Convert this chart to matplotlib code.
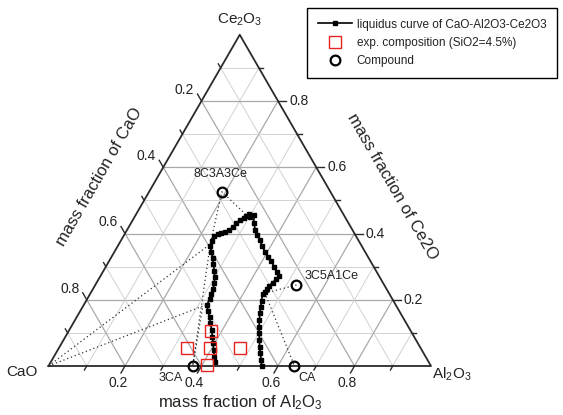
import numpy as np
import matplotlib.pyplot as plt

plt.rcParams['font.family'] = ['Liberation Sans', 'DejaVu Sans']
plt.rcParams['mathtext.default'] = 'regular'

# mass fractions: (Al2O3, Ce2O3), CaO is the rest
curve_al2o3 = [0.428, 0.419, 0.408, 0.396, 0.384, 0.372, 0.359, 0.347, 0.334, 0.322,
               0.320, 0.317, 0.314, 0.308, 0.300, 0.290, 0.277, 0.266, 0.254, 0.243,
               0.238, 0.237, 0.243, 0.251, 0.259, 0.267, 0.273, 0.276, 0.280, 0.286,
               0.291, 0.294, 0.302, 0.310, 0.320, 0.335, 0.349, 0.364, 0.377, 0.394,
               0.409, 0.425, 0.441, 0.456, 0.468, 0.464, 0.460, 0.456, 0.454, 0.454,
               0.451, 0.459, 0.466, 0.473, 0.482, 0.491, 0.501, 0.512, 0.523, 0.535,
               0.547, 0.557]
curve_ce2o3 = [0.012, 0.028, 0.048, 0.069, 0.089, 0.109, 0.129, 0.148, 0.166, 0.184,
               0.202, 0.217, 0.233, 0.251, 0.269, 0.287, 0.308, 0.326, 0.344, 0.361,
               0.377, 0.391, 0.399, 0.401, 0.405, 0.411, 0.420, 0.431, 0.441, 0.448,
               0.453, 0.459, 0.451, 0.457, 0.432, 0.412, 0.394, 0.379, 0.362, 0.345,
               0.330, 0.316, 0.299, 0.284, 0.271, 0.263, 0.252, 0.243, 0.233, 0.222,
               0.217, 0.196, 0.178, 0.159, 0.139, 0.119, 0.099, 0.079, 0.058, 0.038,
               0.018, 0.0]

exp_al2o3 = [0.372, 0.336, 0.395, 0.473, 0.414]
exp_ce2o3 = [0.106, 0.053, 0.053, 0.053, 0.003]

comp_names = ['8C3A3Ce', '3C5A1Ce', '3CA', 'CA']
comp_al2o3 = [0.190, 0.526, 0.377, 0.643]
comp_ce2o3 = [0.526, 0.2445, 0.0, 0.0]

# dotted boundary lines, as (Al2O3, Ce2O3) points
dotted_paths = [
    [(0.0, 0.0), (0.239, 0.368), (0.190, 0.526), (0.288, 0.457)],
    [(0.0, 0.0), (0.313, 0.181), (0.377, 0.0)],
    [(0.239, 0.368), (0.377, 0.0)],
    [(0.526, 0.2445), (0.456, 0.220), (0.643, 0.0)],
]

levels = [0.1, 0.2, 0.3, 0.4, 0.5, 0.6, 0.7, 0.8, 0.9]


def tern(a, c):
    a = np.asarray(a, dtype=float)
    c = np.asarray(c, dtype=float)
    return a + c / 2, c * np.sqrt(3) / 2


fig = plt.figure(figsize=(5.63, 4.15), dpi=100)
ax = fig.add_axes([0, 0, 1, 1])
ax.set_xlim(-0.1268, 1.3451)
ax.set_ylim(-0.1281, 0.9569)
ax.axis('off')

txt = '#222222'
h = np.sqrt(3) / 2

# grid
for k in levels:
    major = abs(k * 10 % 2) < 1e-6
    col = '#a9a9a9' if major else '#d2d2d2'
    lw = 0.9 if major else 0.7
    for (a0, c0), (a1, c1) in [((0, k), (1 - k, k)),
                               ((k, 0), (k, 1 - k)),
                               ((1 - k, 0), (0, 1 - k))]:
        x, y = tern([a0, a1], [c0, c1])
        ax.plot(x, y, color=col, lw=lw, zorder=1)

# dotted lines
for path in dotted_paths:
    x, y = tern([p[0] for p in path], [p[1] for p in path])
    ax.plot(x, y, color='#333333', lw=0.9, ls=(0, (1, 2.2)), zorder=2)

# triangle
x, y = tern([0, 1, 0, 0], [0, 0, 1, 0])
ax.plot(x, y, color='#2a2a2a', lw=1.3, zorder=3)

# ticks and tick labels
for k in levels:
    major = abs(k * 10 % 2) < 1e-6
    L = 0.021 if major else 0.012
    lab = '%.1f' % k
    # right edge, Ce2O3
    x, y = tern(1 - k, k)
    ax.plot([x, x + L], [y, y], color='#2a2a2a', lw=1.0, zorder=3)
    # bottom edge, Al2O3
    x2, y2 = tern(k, 0)
    ax.plot([x2, x2 - 0.5 * L], [y2, y2 - h * L], color='#2a2a2a', lw=1.0, zorder=3)
    # left edge, CaO
    x3, y3 = tern(0, 1 - k)
    ax.plot([x3, x3 - 0.5 * L], [y3, y3 + h * L], color='#2a2a2a', lw=1.0, zorder=3)
    if major:
        ax.text(x + 0.029, y, lab, ha='left', va='center', fontsize=10, color=txt)
        ax.text(x2 - 0.018, y2 - 0.044, lab, ha='center', va='center', fontsize=10, color=txt)
        ax.text(x3 - 0.044, y3 + 0.029, lab, ha='center', va='center', fontsize=10, color=txt)

# corner labels
ax.text(0.5007, 0.905, 'Ce$_2$O$_3$', ha='center', va='center', fontsize=11, color=txt)
ax.text(-0.069, -0.016, 'CaO', ha='center', va='center', fontsize=11, color=txt)
ax.text(1.055, -0.021, 'Al$_2$O$_3$', ha='center', va='center', fontsize=11, color=txt)

# axis titles
ax.text(0.134, 0.495, 'mass fraction of CaO', rotation=60, ha='center', va='center',
        fontsize=12, color=txt)
ax.text(0.898, 0.468, 'mass fraction of Ce2O', rotation=-60, ha='center', va='center',
        fontsize=12, color=txt)
ax.text(0.5007, -0.097, 'mass fraction of Al$_2$O$_3$', ha='center', va='center',
        fontsize=12, color=txt)

# data
x, y = tern(curve_al2o3, curve_ce2o3)
ax.plot(x, y, color='black', lw=1.2, marker='s', ms=2.8, zorder=5,
        label='liquidus curve of CaO-Al2O3-Ce2O3')
x, y = tern(exp_al2o3, exp_ce2o3)
ax.plot(x, y, ls='none', marker='s', ms=8, mfc='none', mec='#e8231f', mew=1.0, zorder=6,
        label='exp. composition (SiO2=4.5%)')
x, y = tern(comp_al2o3, comp_ce2o3)
ax.plot(x, y, ls='none', marker='o', ms=7, mfc='none', mec='black', mew=1.6, zorder=6,
        label='Compound')

# compound labels
ax.text(0.4505, 0.502, comp_names[0], ha='center', va='center', fontsize=9, color=txt)
ax.text(0.669, 0.235, comp_names[1], ha='left', va='center', fontsize=9, color=txt)
ax.text(0.352, -0.031, comp_names[2], ha='right', va='center', fontsize=9, color=txt)
ax.text(0.676, -0.031, comp_names[3], ha='center', va='center', fontsize=9, color=txt)

leg = ax.legend(loc='upper left', bbox_to_anchor=(0.5453, 0.981), bbox_transform=fig.transFigure,
                borderaxespad=0, fancybox=False, edgecolor='black', framealpha=1,
                fontsize=8.5, handlelength=2.9, handletextpad=0.4, borderpad=0.9,
                labelspacing=0.55)
leg.get_frame().set_linewidth(1.0)
for t in leg.get_texts():
    t.set_color(txt)

fig.savefig('out.png', dpi=100)
